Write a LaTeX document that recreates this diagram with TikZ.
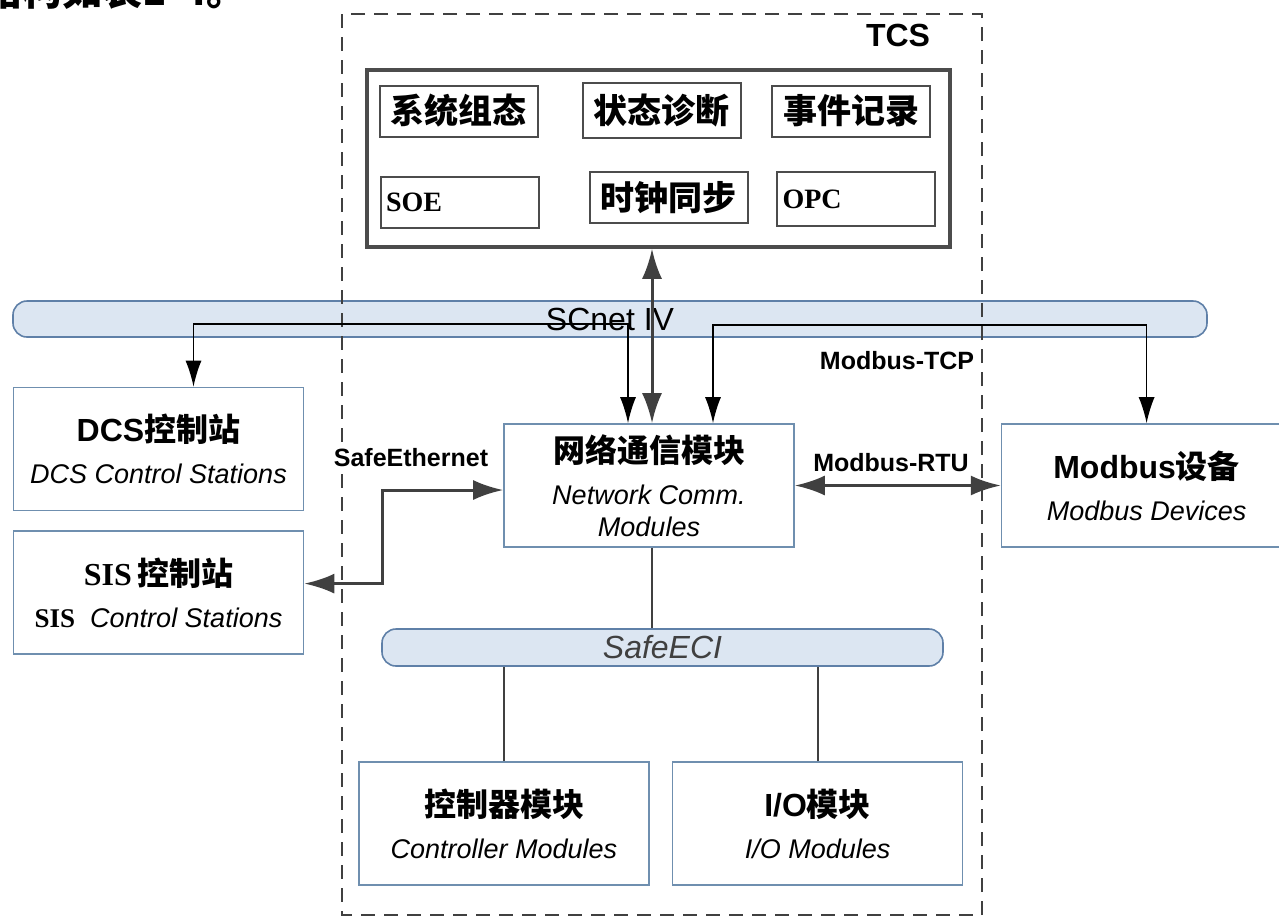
\documentclass[tikz,border=0pt]{standalone}
\usepackage{fontspec}
\setmainfont{Liberation Sans}
\newfontfamily\cjk{Noto Sans CJK SC}
\newfontfamily\serifb{Liberation Serif}
\usetikzlibrary{arrows.meta,positioning}
\definecolor{boxline}{RGB}{111,143,175}
\definecolor{busfill}{RGB}{220,230,242}
\definecolor{busline}{RGB}{95,128,168}
\definecolor{darkline}{RGB}{64,64,64}
\newcommand{\zh}[1]{{\cjk\bfseries #1}}
\newcommand{\titel}[1]{{\fontsize{32}{36}\selectfont\bfseries\upshape #1}}
\tikzset{
    %Define standard arrow tip
    >={Latex[length=26pt,width=16pt]},
    %Define style for module boxes
    modul/.style={
           rectangle,
           draw=boxline, line width=1.6pt,
           fill=white,
           minimum width=290pt,
           minimum height=123pt,
           align=center,
           font=\fontsize{27}{32}\selectfont\itshape},
    %Define style for function boxes
    func/.style={
           rectangle,
           draw=black!70, line width=2pt,
           minimum width=158pt,
           minimum height=51pt,
           inner sep=2pt,
           font=\fontsize{34}{38}\selectfont},
    funcl/.style={
           func,
           text width=147pt,
           align=left,
           font=\serifb\bfseries\fontsize{28}{30}\selectfont},
    %Define style for bus bars
    bus/.style={
           rectangle,
           rounded corners=14pt,
           draw=busline, line width=1.6pt,
           fill=busfill,
           inner sep=0pt},
    %Define style for labels
    lbl/.style={
           font=\bfseries\fontsize{25}{25}\selectfont,
           inner sep=1pt},
    % Define arrow styles
    wire/.style={
           <->,
           line width=1.5pt},
    link/.style={
           <->,
           >={Latex[length=30pt,width=20pt]},
           draw=darkline,
           line width=3pt},
    plain/.style={
           draw=darkline,
           line width=2pt}
}
\begin{document}
\begin{tikzpicture}[x=1pt,y=-1pt,node distance=19pt]
\useasboundingbox (0,0) rectangle (1279,919);
\node[anchor=base east,font=\cjk\bfseries\fontsize{40}{40}\selectfont] (frag) at (250,5) {结构如表1-4。};
% networks
\node[bus,minimum width=1194pt,minimum height=36pt,font=\fontsize{32}{32}\selectfont] (scnet) at (610,319) {SCnet IV};
\node[bus,minimum width=561pt,minimum height=37pt,text=darkline,font=\itshape\fontsize{32}{32}\selectfont] (eci) at (662.5,647.5) {SafeECI};
% TCS frame
\draw[draw=darkline,line width=2.4pt,dash pattern=on 14pt off 9pt] (342,14) rectangle (982,915);
\node[font=\bfseries\fontsize{32}{32}\selectfont] (tcs) at (898,35) {TCS};
\node[draw=black!70,line width=3.5pt,minimum width=583pt,minimum height=177pt] (core) at (658.5,158.5) {};
\node[func] (cfg) at (458.5,111) {\zh{系统组态}};
\node[func,minimum height=55pt] (diag) at (661.5,110.5) {\zh{状态诊断}};
\node[func] (evt) at (851,111) {\zh{事件记录}};
\node[funcl] (soe) at (459.5,202.5) {SOE};
\node[func] (clk) at (668.5,197.5) {\zh{时钟同步}};
\node[funcl,minimum height=54pt] (opc) at (856,199) {OPC};
% stations and modules
\node[modul] (dcs) at (158.5,449) {\titel{DCS\zh{控制站}}\\[10pt]DCS Control Stations};
\node[modul,below=of dcs] (sis) {\titel{{\serifb SIS}\,\zh{控制站}}\\[10pt]{\serifb\bfseries\upshape SIS}\ \ Control Stations};
\node[modul] (ncm) at (649,485.5) {\titel{\zh{网络通信模块}}\\[10pt]Network Comm.\\Modules};
\node[modul,right=206pt of ncm] (mdb) {\titel{Modbus\zh{设备}}\\[10pt]Modbus Devices};
\node[modul] (ctrl) at (504,823.5) {\titel{\zh{控制器模块}}\\[10pt]Controller Modules};
\node[modul,right=22pt of ctrl] (io) {\titel{I/O\zh{模块}}\\[10pt]I/O Modules};
% connections
\draw[wire] ([xshift=35pt]dcs.north) |- ([xshift=-21pt,yshift=-5pt]ncm.north |- scnet.center) -- ([xshift=-21pt]ncm.north);
\draw[wire] ([xshift=64pt]ncm.north) |- ([yshift=-6pt]mdb.north |- scnet.center) -- (mdb.north);
\draw[link] ([xshift=3pt]ncm.north) -- ([xshift=3pt]ncm.north |- core.south);
\draw[link] (ncm.east) -- (mdb.west);
\draw[link] ([yshift=9pt]sis.east) -| ([xshift=-121pt,yshift=-4.5pt]ncm.west) -- ([yshift=-4.5pt]ncm.west);
\draw[plain] ([xshift=3pt]ncm.south) -- ([xshift=3pt]ncm.south |- eci.north);
\draw[plain] (ctrl.north) -- (ctrl.north |- eci.south);
\draw[plain] (io.north) -- (io.north |- eci.south);
% labels
\node[lbl,fill=white] (seth) at (411,458) {SafeEthernet};
\node[lbl] (mtcp) at (897,361) {Modbus-TCP};
\node[lbl] (mrtu) at (891,463) {Modbus-RTU};
\end{tikzpicture}
\end{document}
